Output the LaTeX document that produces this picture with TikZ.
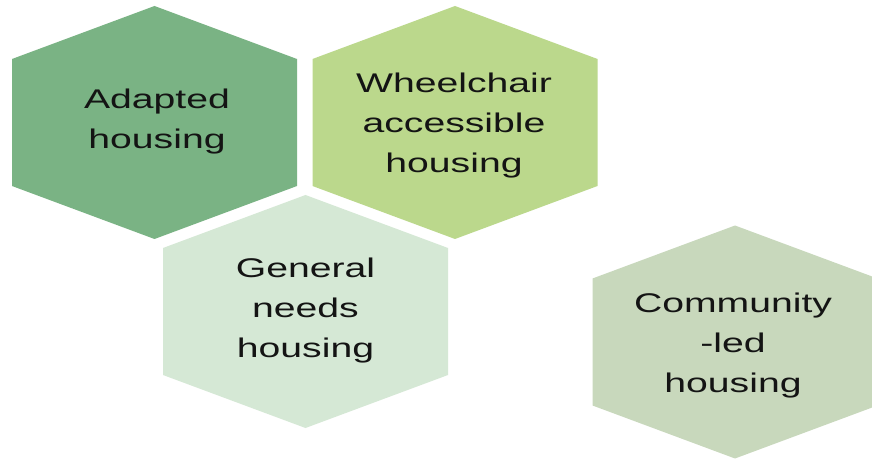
\documentclass[tikz,border=0pt]{standalone}
\usepackage{fontspec}
\newfontfamily\hexfont[FakeStretch=1.45]{Liberation Sans}
\definecolor{hexA}{HTML}{7AB384}
\definecolor{hexB}{HTML}{BBD88C}
\definecolor{hexC}{HTML}{D5E8D5}
\definecolor{hexD}{HTML}{C8D8BC}
\definecolor{ink}{HTML}{141414}
% hexagon with a vertex on top: centre (#1,#2), fill colour #3
\newcommand\hexpatch[3]{%
  \fill[#3] (#1,#2) ++(0,116.5) -- ++(142.5,-53) -- ++(0,-127)
    -- ++(-142.5,-53) -- ++(-142.5,53) -- ++(0,127) -- cycle;}
\tikzset{
  hexlabel/.style={text=ink, align=center, inner sep=0pt,
    font=\hexfont\fontsize{27}{40}\selectfont}
}
\begin{document}
\begin{tikzpicture}[x=1pt,y=1pt]
  \useasboundingbox (0,0) rectangle (872,458);
  \clip (0,0) rectangle (872,458);
  \fill[white] (0,0) rectangle (872,458);
  \hexpatch{154.5}{335.5}{hexA}
  \hexpatch{455}{335.5}{hexB}
  \hexpatch{305.5}{146.5}{hexC}
  \hexpatch{735}{116}{hexD}
  \node[hexlabel] (adapted) at (157,336) {Adapted\\housing};
  \node[hexlabel] (wheelchair) at (454,332) {Wheelchair\\accessible\\housing};
  \node[hexlabel] (general) at (305.5,147) {General\\needs\\housing};
  \node[hexlabel] (community) at (733,112) {Community\\-led\\housing};
\end{tikzpicture}
\end{document}
